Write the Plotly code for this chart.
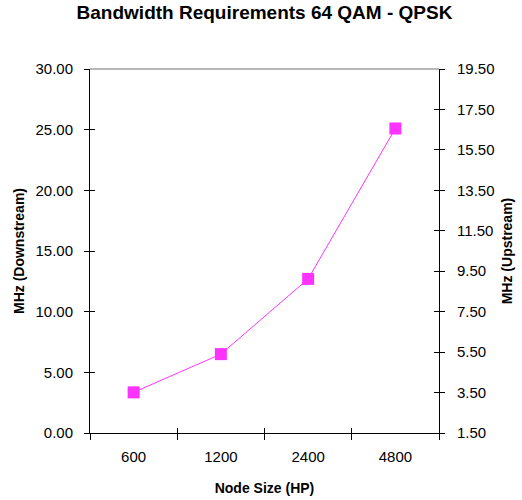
import plotly.graph_objects as go

categories = ["600", "1200", "2400", "4800"]
downstream = [3.35, 6.5, 12.7, 25.1]
left_ticks = [0, 5, 10, 15, 20, 25, 30]
right_ticks = [1.5, 3.5, 5.5, 7.5, 9.5, 11.5, 13.5, 15.5, 17.5, 19.5]

color = "#FF33FF"
font = "Liberation Sans, Arial, sans-serif"

fig = go.Figure()
fig.add_trace(go.Scatter(
    x=categories, y=downstream, mode="lines+markers",
    line=dict(color=color, width=1),
    marker=dict(symbol="square", size=12, color=color),
    showlegend=False, hoverinfo="skip"))
# invisible traces so the secondary / overlay axes render
fig.add_trace(go.Scatter(x=categories, y=[None]*4, yaxis="y2", showlegend=False, hoverinfo="skip"))
fig.add_trace(go.Scatter(x=categories, y=[None]*4, yaxis="y3", showlegend=False, hoverinfo="skip"))
fig.add_trace(go.Scatter(x=categories, y=[None]*4, yaxis="y4", showlegend=False, hoverinfo="skip"))
fig.add_trace(go.Scatter(x=categories, y=[None]*4, xaxis="x2", showlegend=False, hoverinfo="skip"))

tickfont = dict(family=font, size=15, color="black")
titlefont = dict(family=font, size=14, color="black")
xrange = [-0.5, 3.5]

fig.update_layout(
    width=522, height=500,
    margin=dict(l=90, r=83, t=69, b=67),
    paper_bgcolor="white", plot_bgcolor="white",
    title=dict(text="<b>Bandwidth Requirements 64 QAM - QPSK</b>",
               xref="paper", x=0.5, xanchor="center", y=0.988, yanchor="top",
               font=dict(family=font, size=19, color="black")),
    xaxis=dict(type="category", range=xrange, tickson="boundaries", ticks="outside",
               ticklen=6, tickcolor="black", showline=True, linecolor="black",
               linewidth=1, showgrid=False, tickfont=tickfont, ticklabelstandoff=10,
               automargin=False,
               title=dict(text="<b>Node Size (HP)</b>", font=titlefont, standoff=19)),
    xaxis2=dict(type="category", range=xrange, tickson="boundaries", ticks="inside",
                ticklen=5, tickcolor="black", showticklabels=False, showline=False,
                showgrid=False, overlaying="x", side="bottom", matches="x"),
    yaxis=dict(range=[0, 30], tickvals=left_ticks, tickformat=".2f",
               ticks="outside", ticklen=5, tickcolor="black",
               showline=True, linecolor="black", linewidth=1, automargin=False,
               showgrid=False, zeroline=False, tickfont=tickfont, ticklabelstandoff=8,
               title=dict(text="<b>MHz (Downstream)</b>", font=titlefont, standoff=7)),
    yaxis2=dict(range=[1.5, 19.5], tickvals=right_ticks, tickformat=".2f",
                overlaying="y", side="right", ticks="outside", ticklen=5,
                tickcolor="black", showline=True, linecolor="black", linewidth=1,
                showgrid=False, zeroline=False, tickfont=tickfont, ticklabelstandoff=9,
                automargin=False,
                title=dict(text="<b>MHz (Upstream)</b>", font=titlefont, standoff=8)),
    yaxis3=dict(range=[0, 30], tickvals=left_ticks, overlaying="y", side="left",
                ticks="inside", ticklen=5, tickcolor="black", showticklabels=False,
                showline=False, showgrid=False, zeroline=False, automargin=False),
    yaxis4=dict(range=[1.5, 19.5], tickvals=right_ticks, overlaying="y", side="right",
                ticks="inside", ticklen=5, tickcolor="black", showticklabels=False,
                showline=False, showgrid=False, zeroline=False, automargin=False),
    shapes=[dict(type="line", xref="paper", yref="paper", x0=0, x1=1, y0=1, y1=1,
                 line=dict(color="#A0A0A0", width=1.5))],
)

fig.write_html("out.html")
